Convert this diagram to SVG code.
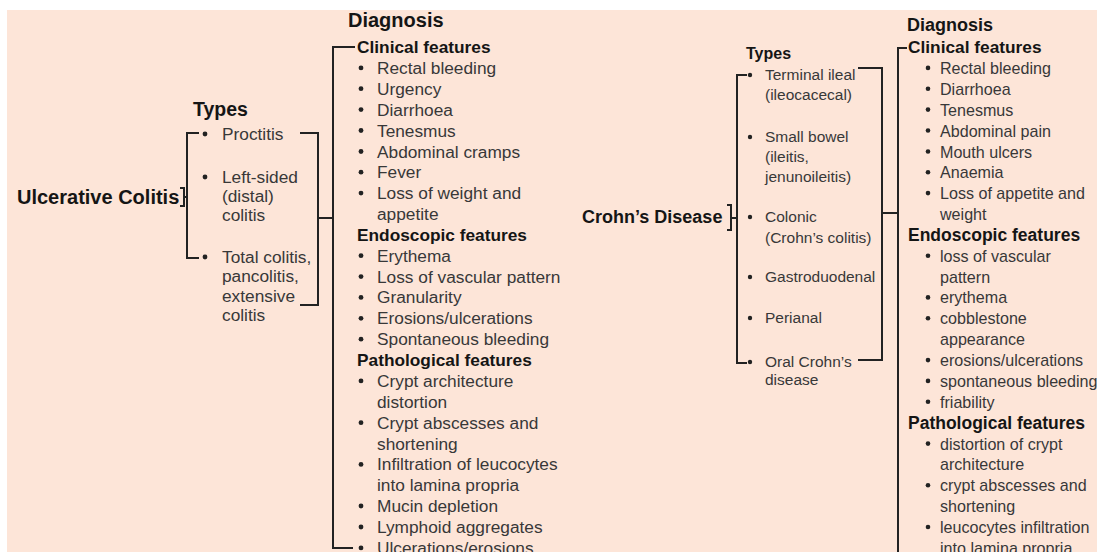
<svg xmlns="http://www.w3.org/2000/svg" width="1097" height="552" viewBox="0 0 1097 552">
<style>
text{font-family:"Liberation Sans",Arial,sans-serif;}
.h{font-weight:bold;fill:#151515;}
.t{fill:#383838;}
.a{font-size:17.3px;}
.b{font-size:16.1px;}
.c{font-size:15.5px;}
.ln{fill:none;stroke:#222;stroke-width:2;}
.dot{fill:#222;}
</style>
<rect x="0" y="0" width="1097" height="552" fill="#ffffff"/>
<rect x="7" y="10" width="1090" height="542" fill="#fde5d8"/>

<g id="connectors">
<path class="ln" d="M180,188 H184 V206 H180 M184,197 H187"/>
<path class="ln" d="M199,133 H187 V258 H199"/>
<path class="ln" d="M300,133 H318 V305 H300 M318,218 H333"/>
<path class="ln" d="M355,47 H333 V548 H353"/>
<path class="ln" d="M727,205 H731 V230 H727 M731,218 H737"/>
<path class="ln" d="M747,75 H737 V363 H747"/>
<path class="ln" d="M858,68 H882 V360 H858 M882,213 H898"/>
<path class="ln" d="M907,48 H898 V560"/>
</g>

<g id="uc">
<text class="h" x="17" y="204" font-size="20">Ulcerative Colitis</text>
</g>

<g id="uc-types">
<text class="h" x="193" y="116" font-size="19.5">Types</text>
<g class="dot"><circle cx="205" cy="134" r="2.4"/><circle cx="205" cy="177" r="2.4"/><circle cx="205" cy="257" r="2.4"/></g>
<text class="t a" x="222" y="140">Proctitis</text>
<text class="t a" x="222" y="183">Left-sided</text>
<text class="t a" x="222" y="202">(distal)</text>
<text class="t a" x="222" y="221">colitis</text>
<text class="t a" x="222" y="263">Total colitis,</text>
<text class="t a" x="222" y="282">pancolitis,</text>
<text class="t a" x="222" y="301.5">extensive</text>
<text class="t a" x="222" y="321">colitis</text>
</g>

<g id="uc-diagnosis">
<text class="h" x="348" y="27" font-size="20">Diagnosis</text>
<text class="h a" x="357" y="53">Clinical features</text>
<g class="dot">
<circle cx="361" cy="67.9" r="2.4"/><circle cx="361" cy="88.7" r="2.4"/><circle cx="361" cy="109.6" r="2.4"/><circle cx="361" cy="130.5" r="2.4"/><circle cx="361" cy="151.5" r="2.4"/><circle cx="361" cy="172.2" r="2.4"/><circle cx="361" cy="193.1" r="2.4"/>
<circle cx="361" cy="255.7" r="2.4"/><circle cx="361" cy="276.6" r="2.4"/><circle cx="361" cy="297.4" r="2.4"/><circle cx="361" cy="318.3" r="2.4"/><circle cx="361" cy="339.2" r="2.4"/>
<circle cx="361" cy="380.9" r="2.4"/><circle cx="361" cy="422.7" r="2.4"/><circle cx="361" cy="464.4" r="2.4"/><circle cx="361" cy="506.0" r="2.4"/><circle cx="361" cy="527.0" r="2.4"/><circle cx="361" cy="547.9" r="2.4"/>
</g>
<text class="t a" x="377" y="73.9">Rectal bleeding</text>
<text class="t a" x="377" y="94.7">Urgency</text>
<text class="t a" x="377" y="115.6">Diarrhoea</text>
<text class="t a" x="377" y="136.5">Tenesmus</text>
<text class="t a" x="377" y="157.5">Abdominal cramps</text>
<text class="t a" x="377" y="178.2">Fever</text>
<text class="t a" x="377" y="199.1">Loss of weight and</text>
<text class="t a" x="377" y="220">appetite</text>
<text class="h a" x="357" y="240.8">Endoscopic features</text>
<text class="t a" x="377" y="261.7">Erythema</text>
<text class="t a" x="377" y="282.6">Loss of vascular pattern</text>
<text class="t a" x="377" y="303.4">Granularity</text>
<text class="t a" x="377" y="324.3">Erosions/ulcerations</text>
<text class="t a" x="377" y="345.2">Spontaneous bleeding</text>
<text class="h a" x="357" y="366">Pathological features</text>
<text class="t a" x="377" y="386.9">Crypt architecture</text>
<text class="t a" x="377" y="407.8">distortion</text>
<text class="t a" x="377" y="428.7">Crypt abscesses and</text>
<text class="t a" x="377" y="449.5">shortening</text>
<text class="t a" x="377" y="470.4">Infiltration of leucocytes</text>
<text class="t a" x="377" y="491.3">into lamina propria</text>
<text class="t a" x="377" y="512">Mucin depletion</text>
<text class="t a" x="377" y="533">Lymphoid aggregates</text>
<text class="t a" x="377" y="553.9">Ulcerations/erosions</text>
</g>

<g id="cd">
<text class="h" x="582" y="223" font-size="18">Crohn’s Disease</text>
</g>

<g id="cd-types">
<text class="h" x="746" y="59" font-size="16">Types</text>
<g class="dot"><circle cx="750" cy="75" r="2.2"/><circle cx="750" cy="137" r="2.2"/><circle cx="750" cy="217" r="2.2"/><circle cx="750" cy="277" r="2.2"/><circle cx="750" cy="318" r="2.2"/><circle cx="750" cy="362" r="2.2"/></g>
<text class="t c" x="765" y="80">Terminal ileal</text>
<text class="t c" x="765" y="100">(ileocacecal)</text>
<text class="t c" x="765" y="142">Small bowel</text>
<text class="t c" x="765" y="162">(ileitis,</text>
<text class="t c" x="765" y="182">jenunoileitis)</text>
<text class="t c" x="765" y="222">Colonic</text>
<text class="t c" x="765" y="243">(Crohn’s colitis)</text>
<text class="t c" x="765" y="282">Gastroduodenal</text>
<text class="t c" x="765" y="323">Perianal</text>
<text class="t c" x="765" y="367">Oral Crohn’s</text>
<text class="t c" x="765" y="385">disease</text>
</g>

<g id="cd-diagnosis">
<text class="h" x="907" y="31" font-size="18">Diagnosis</text>
<text class="h" x="908" y="53" font-size="17.3">Clinical features</text>
<g class="dot">
<circle cx="928" cy="67.9" r="2.3"/><circle cx="928" cy="88.7" r="2.3"/><circle cx="928" cy="109.6" r="2.3"/><circle cx="928" cy="130.5" r="2.3"/><circle cx="928" cy="151.5" r="2.3"/><circle cx="928" cy="172.2" r="2.3"/><circle cx="928" cy="193.1" r="2.3"/>
<circle cx="928" cy="255.7" r="2.3"/><circle cx="928" cy="297.4" r="2.3"/><circle cx="928" cy="318.3" r="2.3"/><circle cx="928" cy="360.1" r="2.3"/><circle cx="928" cy="380.9" r="2.3"/><circle cx="928" cy="401.8" r="2.3"/>
<circle cx="928" cy="443.6" r="2.3"/><circle cx="928" cy="485.3" r="2.3"/><circle cx="928" cy="527.0" r="2.3"/>
</g>
<text class="t b" x="940" y="73.9">Rectal bleeding</text>
<text class="t b" x="940" y="94.7">Diarrhoea</text>
<text class="t b" x="940" y="115.6">Tenesmus</text>
<text class="t b" x="940" y="136.5">Abdominal pain</text>
<text class="t b" x="940" y="157.5">Mouth ulcers</text>
<text class="t b" x="940" y="178.2">Anaemia</text>
<text class="t b" x="940" y="199.1">Loss of appetite and</text>
<text class="t b" x="940" y="220">weight</text>
<text class="h" x="908" y="240.8" font-size="17.5">Endoscopic features</text>
<text class="t b" x="940" y="261.7">loss of vascular</text>
<text class="t b" x="940" y="282.6">pattern</text>
<text class="t b" x="940" y="303.4">erythema</text>
<text class="t b" x="940" y="324.3">cobblestone</text>
<text class="t b" x="940" y="345.2">appearance</text>
<text class="t b" x="940" y="366.1">erosions/ulcerations</text>
<text class="t b" x="940" y="386.9">spontaneous bleeding</text>
<text class="t b" x="940" y="407.8">friability</text>
<text class="h" x="908" y="428.7" font-size="17.5">Pathological features</text>
<text class="t b" x="940" y="449.6">distortion of crypt</text>
<text class="t b" x="940" y="470.4">architecture</text>
<text class="t b" x="940" y="491.3">crypt abscesses and</text>
<text class="t b" x="940" y="512.1">shortening</text>
<text class="t b" x="940" y="533">leucocytes infiltration</text>
<text class="t b" x="940" y="553.9">into lamina propria</text>
</g>
</svg>
